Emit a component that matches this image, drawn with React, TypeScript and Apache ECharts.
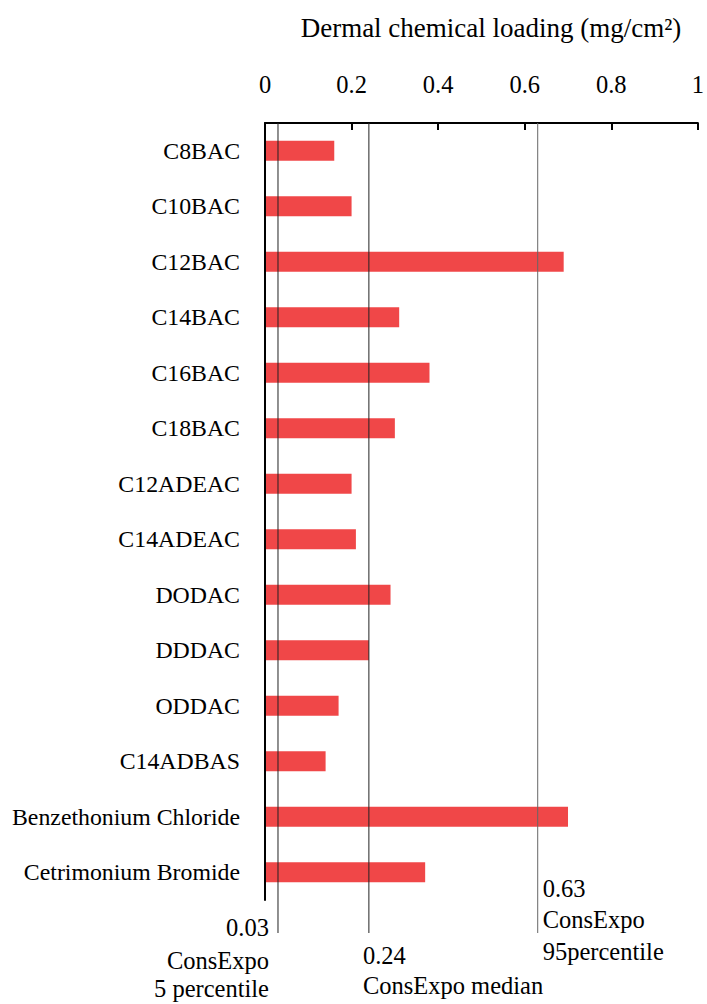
import React, { useEffect, useRef } from "react";
import * as echarts from "echarts";

// Compounds, top to bottom
const categories = [
  "C8BAC",
  "C10BAC",
  "C12BAC",
  "C14BAC",
  "C16BAC",
  "C18BAC",
  "C12ADEAC",
  "C14ADEAC",
  "DODAC",
  "DDDAC",
  "ODDAC",
  "C14ADBAS",
  "Benzethonium Chloride",
  "Cetrimonium Bromide",
];

// Dermal chemical loading, mg/cm²
const loadings = [0.16, 0.2, 0.69, 0.31, 0.38, 0.3, 0.2, 0.21, 0.29, 0.24, 0.17, 0.14, 0.7, 0.37];

// ConsExpo reference levels
const refValues = [0.03, 0.24, 0.63];
const refCaptions = [
  ["ConsExpo", "5 percentile"],
  ["ConsExpo median"],
  ["ConsExpo", "95percentile"],
];

const axisMin = 0;
const axisMax = 1;
const axisStep = 0.2;

const FONT = "'Liberation Serif', 'DejaVu Serif', serif";

export default function App() {
  const ref = useRef<HTMLDivElement>(null);

  useEffect(() => {
    if (!ref.current) return;
    const chart = echarts.init(ref.current, null, { renderer: "svg" });
    chart.setOption({
      animation: false,
      backgroundColor: "#fff",
      grid: { left: 265, top: 123, right: 8, height: 777 },
      xAxis: {
        type: "value",
        position: "top",
        min: axisMin,
        max: axisMax,
        interval: axisStep,
        z: 5,
        axisLine: { show: true, lineStyle: { color: "#000", width: 2 } },
        axisTick: { show: true, inside: true, length: 7, lineStyle: { color: "#000", width: 2 } },
        axisLabel: { margin: 26, fontFamily: FONT, fontSize: 24.5, color: "#000" },
        splitLine: { show: false },
      },
      yAxis: {
        type: "category",
        data: categories,
        inverse: true,
        z: 5,
        axisLine: { show: true, lineStyle: { color: "#000", width: 2 } },
        axisTick: { show: false },
        axisLabel: { margin: 25, fontFamily: FONT, fontSize: 23.8, color: "#000" },
        splitLine: { show: false },
      },
      series: [
        {
          type: "bar",
          data: loadings,
          barWidth: 20,
          itemStyle: { color: "#F04748" },
        },
      ],
    });

    // Reference lines and their captions, placed through the value axis
    const lineColors = ["#222", "#222", "#666"];
    const captionLayout = [
      { dx: -9, align: "right", y0: 927, gaps: [33, 28] },
      { dx: -6, align: "left", y0: 955, gaps: [30] },
      { dx: 5, align: "left", y0: 888, gaps: [31, 32] },
    ];
    const graphics: any[] = [
      {
        type: "text",
        x: 491,
        y: 28,
        style: {
          text: "Dermal chemical loading (mg/cm\u00B2)",
          font: `27px ${FONT}`,
          fill: "#000",
          align: "center",
          verticalAlign: "middle",
        },
      },
    ];
    refValues.forEach((v, i) => {
      const x = chart.convertToPixel({ xAxisIndex: 0 }, v) as number;
      graphics.push({
        type: "line",
        z: 10,
        shape: { x1: x, y1: 123, x2: x, y2: 933 },
        style: { stroke: lineColors[i], lineWidth: 1 },
      });
      const lay = captionLayout[i];
      const lines = [String(v), ...refCaptions[i]];
      let y = lay.y0;
      lines.forEach((t, k) => {
        graphics.push({
          type: "text",
          z: 10,
          x: x + lay.dx,
          y,
          style: {
            text: t,
            font: `24.5px ${FONT}`,
            fill: "#000",
            align: lay.align,
            verticalAlign: "middle",
          },
        });
        if (k < lay.gaps.length) y += lay.gaps[k];
      });
    });
    chart.setOption({ graphic: graphics });

    return () => chart.dispose();
  }, []);

  return (
    <div
      ref={ref}
      style={{ position: "fixed", left: 0, top: 0, width: 707, height: 1004 }}
    />
  );
}
